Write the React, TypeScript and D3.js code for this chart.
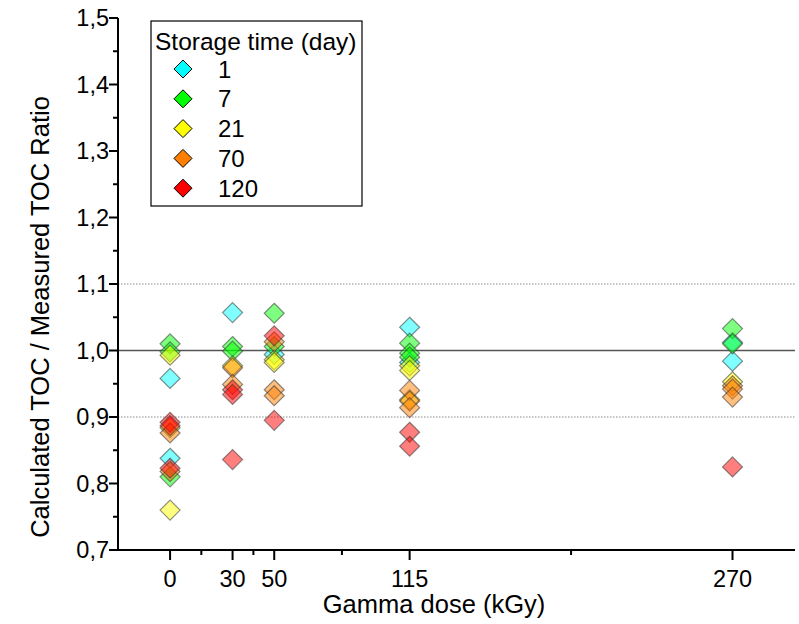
import React from "react";
import * as d3 from "d3";

const seriesNames = ["1", "7", "21", "70", "120"];
const seriesColors = ["#00FFFF", "#00FF00", "#FFFF00", "#FF8000", "#FF0000"];
const doses = [0, 30, 50, 115, 270];
const xTickLabels = ["0", "30", "50", "115", "270"];
const xMinorTicks = [15, 40, 82.5, 192.5];
const yTicks = [0.7, 0.8, 0.9, 1.0, 1.1, 1.2, 1.3, 1.4, 1.5];

// values per series: [dose, ratio]
const s1: [number, number][] = [
  [0, 0.958], [0, 0.838],
  [30, 1.057],
  [50, 0.994],
  [115, 1.035], [115, 0.982],
  [270, 1.012], [270, 0.984],
];
const s7: [number, number][] = [
  [0, 1.010], [0, 0.998], [0, 0.810],
  [30, 1.006], [30, 0.999],
  [50, 1.056], [50, 1.006],
  [115, 1.011], [115, 0.996], [115, 0.990],
  [270, 1.033], [270, 1.010],
];
const s21: [number, number][] = [
  [0, 0.993], [0, 0.884], [0, 0.760],
  [30, 0.977],
  [50, 0.986], [50, 0.982],
  [115, 0.977], [115, 0.970], [115, 0.926],
  [270, 0.953],
];
const s70: [number, number][] = [
  [0, 0.876], [0, 0.818],
  [30, 0.974], [30, 0.949],
  [50, 1.013], [50, 0.941], [50, 0.932],
  [115, 0.940], [115, 0.924], [115, 0.914],
  [270, 0.947], [270, 0.942], [270, 0.930],
];
const s120: [number, number][] = [
  [0, 0.892], [0, 0.887], [0, 0.823],
  [30, 0.941], [30, 0.934], [30, 0.836],
  [50, 1.022], [50, 0.895],
  [115, 0.877], [115, 0.856],
  [270, 0.825],
];
const allSeries = [s1, s7, s21, s70, s120];

const W = 799;
const H = 624;
const FONT = "Arial, 'Liberation Sans', sans-serif";

export default function App() {
  const x = d3.scaleLinear().domain([-25, 300]).range([118, 795]);
  const y = d3.scaleLinear().domain([0.7, 1.5]).range([550, 18]);
  const diamond = (cx: number, cy: number, r: number) =>
    `M${cx},${cy - r}L${cx + r},${cy}L${cx},${cy + r}L${cx - r},${cy}Z`;
  const yMinor = d3.range(0.75, 1.5, 0.1);

  return (
    <svg width={W} height={H} style={{ position: "absolute", left: 0, top: 0, background: "#fff" }} fontFamily={FONT}>
      {/* reference lines */}
      <line x1={x(-25)} x2={795} y1={y(1.1)} y2={y(1.1)} stroke="#888" strokeWidth={1} strokeDasharray="1.5,1.5" />
      <line x1={x(-25)} x2={795} y1={y(0.9)} y2={y(0.9)} stroke="#888" strokeWidth={1} strokeDasharray="1.5,1.5" />
      <line x1={x(-25)} x2={795} y1={y(1.0)} y2={y(1.0)} stroke="#555" strokeWidth={1.3} />

      {/* points */}
      {allSeries.map((s, si) =>
        s.map((d, i) => (
          <path
            key={`${si}-${i}`}
            d={diamond(x(d[0]), y(d[1]), 10)}
            fill={seriesColors[si]}
            fillOpacity={0.5}
            stroke="#333"
            strokeOpacity={0.55}
            strokeWidth={1.2}
          />
        ))
      )}

      {/* axes */}
      <line x1={118} x2={118} y1={18} y2={550} stroke="#000" strokeWidth={2} />
      <line x1={117} x2={795} y1={550} y2={550} stroke="#000" strokeWidth={2} />
      {yTicks.map((t) => (
        <g key={t}>
          <line x1={109} x2={118} y1={y(t)} y2={y(t)} stroke="#000" strokeWidth={2} />
          <text x={109} y={y(t)} dy="0.35em" textAnchor="end" fontSize={23.5}>
            {d3.format(".1f")(t).replace(".", ",")}
          </text>
        </g>
      ))}
      {yMinor.map((t) => (
        <line key={t} x1={113} x2={118} y1={y(t)} y2={y(t)} stroke="#000" strokeWidth={2} />
      ))}
      {doses.map((t, i) => (
        <g key={t}>
          <line x1={x(t)} x2={x(t)} y1={550} y2={560} stroke="#000" strokeWidth={2} />
          <text x={x(t)} y={587} textAnchor="middle" fontSize={23.5}>
            {xTickLabels[i]}
          </text>
        </g>
      ))}
      {xMinorTicks.map((t) => (
        <line key={t} x1={x(t)} x2={x(t)} y1={550} y2={555} stroke="#000" strokeWidth={2} />
      ))}
      <text x={434} y={613} textAnchor="middle" fontSize={25.5}>
        Gamma dose (kGy)
      </text>
      <text transform={`translate(49,317) rotate(-90)`} textAnchor="middle" fontSize={25.5}>
        {"Calculated TOC /  Measured TOC Ratio"}
      </text>

      {/* legend */}
      <rect x={151} y={21} width={211} height={185} fill="#fff" stroke="#000" strokeWidth={1.2} />
      <text x={155} y={50} fontSize={24.5}>
        Storage time (day)
      </text>
      {seriesNames.map((n, i) => {
        const cy = 69 + i * 29.8;
        return (
          <g key={n}>
            <path d={diamond(183, cy, 9)} fill={seriesColors[i]} stroke="#000" strokeWidth={1} />
            <text x={218} y={cy} dy="0.36em" fontSize={24}>
              {n}
            </text>
          </g>
        );
      })}
    </svg>
  );
}
